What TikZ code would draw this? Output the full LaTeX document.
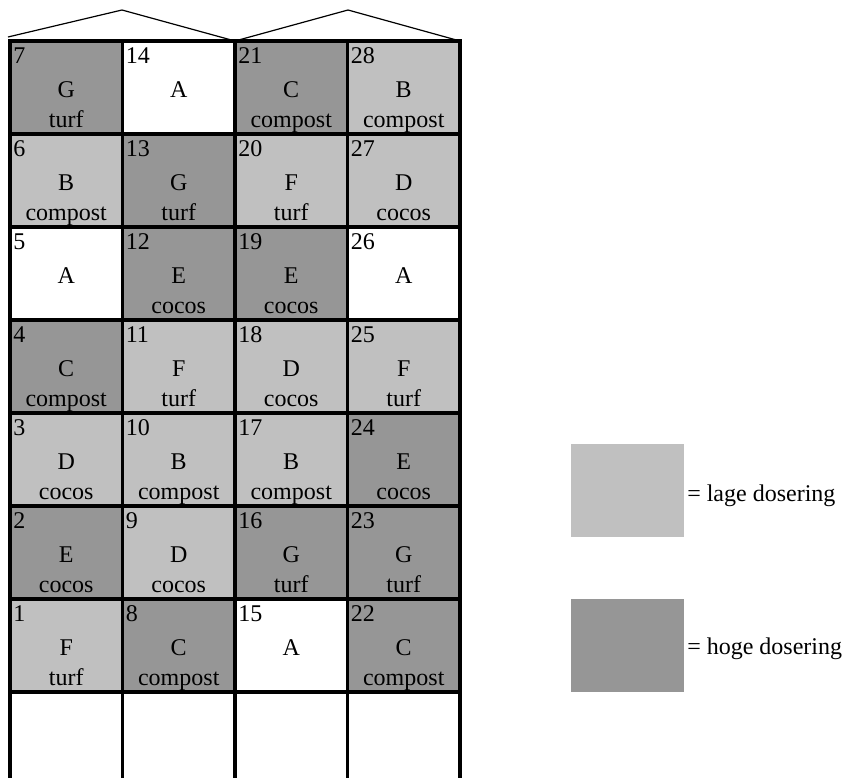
\documentclass[tikz,border=0pt]{standalone}
\usepackage{fontspec}
\setmainfont{Liberation Serif}
\definecolor{lightdose}{HTML}{C0C0C0}
\definecolor{darkdose}{HTML}{969696}
\begin{document}
\begin{tikzpicture}[x=0.75pt,y=-0.75pt,
  font=\fontsize{18}{20}\selectfont,
  grid/.style={line width=2.3pt},
  cell/.style={rectangle, minimum width=84.375pt, minimum height=69.75pt, inner sep=0pt, outer sep=0pt},
  light/.style={cell, fill=lightdose},
  dark/.style={cell, fill=darkdose},
  plain/.style={cell, fill=white},
  num/.style={anchor=base west, inner sep=0pt},
  lbl/.style={anchor=base, inner sep=0pt},
  roof/.style={line width=0.9pt},
  legbox/.style={rectangle, draw=none, minimum width=84.75pt, minimum height=69.75pt, inner sep=0pt},
  legtxt/.style={anchor=base west, inner sep=0pt}]
\useasboundingbox (0,0) rectangle (851,778);
\newcommand{\plotcell}[7]{%
  \pgfmathsetmacro{\cl}{10+112.5*#2}%
  \pgfmathsetmacro{\ct}{41+93*#3}%
  \node[#4] (c#1) at ({\cl+56.25},{\ct+46.5}) {};
  \node[num] (n#1) at ({\cl+3},{\ct+22}) {#5};
  \node[lbl] (l#1) at ({\cl+56.25},{\ct+56}) {#6};
  \node[lbl] (w#1) at ({\cl+56.25},{\ct+86}) {#7};
}
\plotcell{7}{0}{0}{dark}{7}{G}{turf}
\plotcell{14}{1}{0}{plain}{14}{A}{}
\plotcell{21}{2}{0}{dark}{21}{C}{compost}
\plotcell{28}{3}{0}{light}{28}{B}{compost}
\plotcell{6}{0}{1}{light}{6}{B}{compost}
\plotcell{13}{1}{1}{dark}{13}{G}{turf}
\plotcell{20}{2}{1}{light}{20}{F}{turf}
\plotcell{27}{3}{1}{light}{27}{D}{cocos}
\plotcell{5}{0}{2}{plain}{5}{A}{}
\plotcell{12}{1}{2}{dark}{12}{E}{cocos}
\plotcell{19}{2}{2}{dark}{19}{E}{cocos}
\plotcell{26}{3}{2}{plain}{26}{A}{}
\plotcell{4}{0}{3}{dark}{4}{C}{compost}
\plotcell{11}{1}{3}{light}{11}{F}{turf}
\plotcell{18}{2}{3}{light}{18}{D}{cocos}
\plotcell{25}{3}{3}{light}{25}{F}{turf}
\plotcell{3}{0}{4}{light}{3}{D}{cocos}
\plotcell{10}{1}{4}{light}{10}{B}{compost}
\plotcell{17}{2}{4}{light}{17}{B}{compost}
\plotcell{24}{3}{4}{dark}{24}{E}{cocos}
\plotcell{2}{0}{5}{dark}{2}{E}{cocos}
\plotcell{9}{1}{5}{light}{9}{D}{cocos}
\plotcell{16}{2}{5}{dark}{16}{G}{turf}
\plotcell{23}{3}{5}{dark}{23}{G}{turf}
\plotcell{1}{0}{6}{light}{1}{F}{turf}
\plotcell{8}{1}{6}{dark}{8}{C}{compost}
\plotcell{15}{2}{6}{plain}{15}{A}{}
\plotcell{22}{3}{6}{dark}{22}{C}{compost}
% cell borders, drawn after all fills
\foreach \k in {1,...,28}
  \draw[grid] (c\k.south west) rectangle (c\k.north east);
% open bottom row
\coordinate (b0) at (10,778);
\coordinate (b1) at (122.5,778);
\coordinate (b2) at (235,778);
\coordinate (b3) at (347.5,778);
\coordinate (b4) at (460,778);
\draw[grid] (c1.south west) -- (b0);
\draw[grid] (c1.south east) -- (b1);
\draw[grid] (c15.south west) -- (b2);
\draw[grid] (c22.south west) -- (b3);
\draw[grid] (c22.south east) -- (b4);
% roof
\coordinate (p1) at (122,10);
\coordinate (p2) at (348,10);
\coordinate (r0) at (8,37);
\draw[roof] (r0) -- (p1) -- (c14.north east);
\draw[roof] (c21.north west) -- (p2) -- (c28.north east);
% legend
\node[legbox, fill=lightdose] (leglow) at (627.5,490.5) {};
\node[legbox, fill=darkdose] (leghigh) at (627.5,645.5) {};
\node[legtxt] (tlow) at (687,501) {= lage dosering};
\node[legtxt] (thigh) at (687,654) {= hoge dosering};
\end{tikzpicture}
\end{document}
